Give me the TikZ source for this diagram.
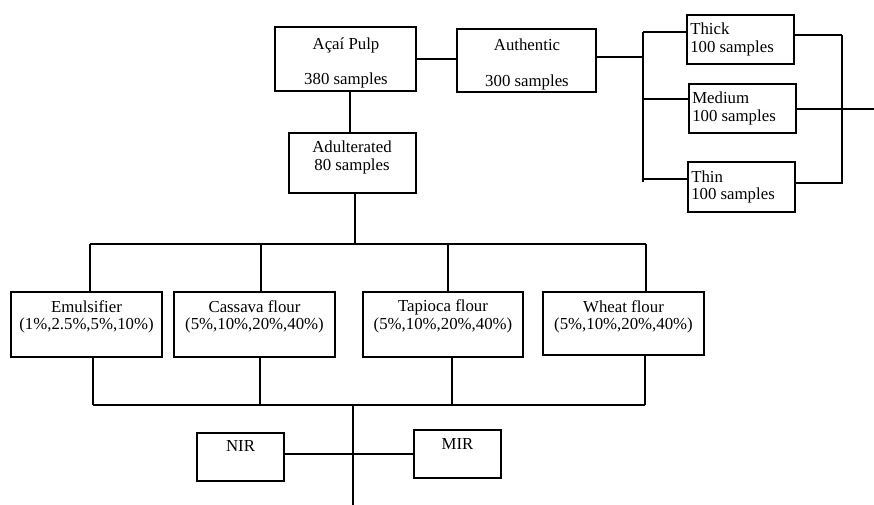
\documentclass[tikz,border=0pt]{standalone}
\usepackage{fontspec}
\setmainfont{Liberation Serif}
\begin{document}
\begin{tikzpicture}[x=0.75pt,y=-0.75pt,
  box/.style={draw, line width=1.4pt, inner sep=0pt},
  txt/.style={inner sep=0pt, font=\fontsize{12.6}{15}\selectfont},
  ltxt/.style={txt, anchor=west},
  conn/.style={line width=1.5pt}]
\useasboundingbox (0,0) rectangle (874,505);
% boxes
\node[box, minimum width=141*0.75pt, minimum height=64*0.75pt] (pulp) at (345.5,59) {};
\node[box, minimum width=139*0.75pt, minimum height=63*0.75pt] (auth) at (526.5,60.5) {};
\node[box, minimum width=107*0.75pt, minimum height=49*0.75pt] (thick) at (740.5,39.5) {};
\node[box, minimum width=107*0.75pt, minimum height=49*0.75pt] (medium) at (742.5,108.5) {};
\node[box, minimum width=107*0.75pt, minimum height=50*0.75pt] (thin) at (741.5,187) {};
\node[box, minimum width=127*0.75pt, minimum height=60*0.75pt] (adult) at (352.5,163) {};
\node[box, minimum width=151*0.75pt, minimum height=65*0.75pt] (emul) at (86.5,324.5) {};
\node[box, minimum width=161*0.75pt, minimum height=65*0.75pt] (cass) at (254.5,324.5) {};
\node[box, minimum width=160*0.75pt, minimum height=65*0.75pt] (tap) at (443,324.5) {};
\node[box, minimum width=161*0.75pt, minimum height=63*0.75pt] (wheat) at (623.5,323.5) {};
\node[box, minimum width=87*0.75pt, minimum height=48*0.75pt] (nir) at (240.5,457) {};
\node[box, minimum width=87*0.75pt, minimum height=48*0.75pt] (mir) at (457.5,454) {};
% texts
\node[txt] (t1) at (346,45) {Açaí Pulp};
\node[txt] (t2) at (346,80) {380 samples};
\node[txt] (t3) at (527,45) {Authentic};
\node[txt] (t4) at (527,82) {300 samples};
\node[ltxt] (t5) at (690,29) {Thick};
\node[ltxt] (t6) at (690,48) {100 samples};
\node[ltxt] (t7) at (692,98) {Medium};
\node[ltxt] (t8) at (692,117) {100 samples};
\node[ltxt] (t9) at (691,177) {Thin};
\node[ltxt] (t10) at (691,195) {100 samples};
\node[txt] (t11) at (352,147) {Adulterated};
\node[txt] (t12) at (352,166) {80 samples};
\node[txt] (t13) at (86.5,307) {Emulsifier};
\node[txt] (t14) at (86.5,325) {(1\%,2.5\%,5\%,10\%)};
\node[txt] (t15) at (254.5,307) {Cassava flour};
\node[txt] (t16) at (254.5,325) {(5\%,10\%,20\%,40\%)};
\node[txt] (t17) at (443,307) {Tapioca flour};
\node[txt] (t18) at (443,325) {(5\%,10\%,20\%,40\%)};
\node[txt] (t19) at (623.5,307) {Wheat flour};
\node[txt] (t20) at (623.5,325) {(5\%,10\%,20\%,40\%)};
\node[txt] (t21) at (240.5,446) {NIR};
\node[txt] (t22) at (457.5,444) {MIR};
% junction coordinates
\coordinate (pa) at (430,59);
\coordinate (lb1) at (643,32);
\coordinate (lb2) at (643,99);
\coordinate (lb3) at (643,182);
\coordinate (la) at (643,57);
\coordinate (rb1) at (842,35);
\coordinate (rb3) at (842,184);
\coordinate (rend) at (874,109);
\coordinate (ab) at (355,244);
\coordinate (bL) at (90,244);
\coordinate (bR) at (646,244);
\coordinate (lL) at (93,405);
\coordinate (lR) at (645,405);
\coordinate (cm) at (353,405);
\coordinate (cx) at (353,454);
\coordinate (cend) at (353,505);
% connectors
\draw[conn] (pulp.east |- pa) -- (auth.west |- pa);
\draw[conn] (auth.east |- la) -- (la);
\draw[conn] (lb1) -- (lb3);
\draw[conn] (lb1) -- (thick.west |- lb1);
\draw[conn] (lb2) -- (medium.west |- lb2);
\draw[conn] (643,179) -- (thin.west |- 0,179);
\draw[conn] (rb1) -- (rb3);
\draw[conn] (thick.east |- rb1) -- (rb1);
\draw[conn] (medium.east |- rend) -- (rend);
\draw[conn] (thin.east |- 0,183) -- (842,183);
\draw[conn] (pulp.south -| 350,0) -- (adult.north -| 350,0);
\draw[conn] (adult.south -| ab) -- (ab);
\draw[conn] (bL) -- (bR);
\draw[conn] (bL) -- (emul.north -| bL);
\draw[conn] (261,244) -- (cass.north -| 261,0);
\draw[conn] (448,244) -- (tap.north -| 448,0);
\draw[conn] (bR) -- (wheat.north -| bR);
\draw[conn] (emul.south -| lL) -- (lL);
\draw[conn] (cass.south -| 260,0) -- (260,405);
\draw[conn] (tap.south -| 452,0) -- (452,405);
\draw[conn] (wheat.south -| lR) -- (lR);
\draw[conn] (lL) -- (lR);
\draw[conn] (cm) -- (cend);
\draw[conn] (nir.east |- cx) -- (cx) -- (mir.west |- cx);
\end{tikzpicture}
\end{document}
